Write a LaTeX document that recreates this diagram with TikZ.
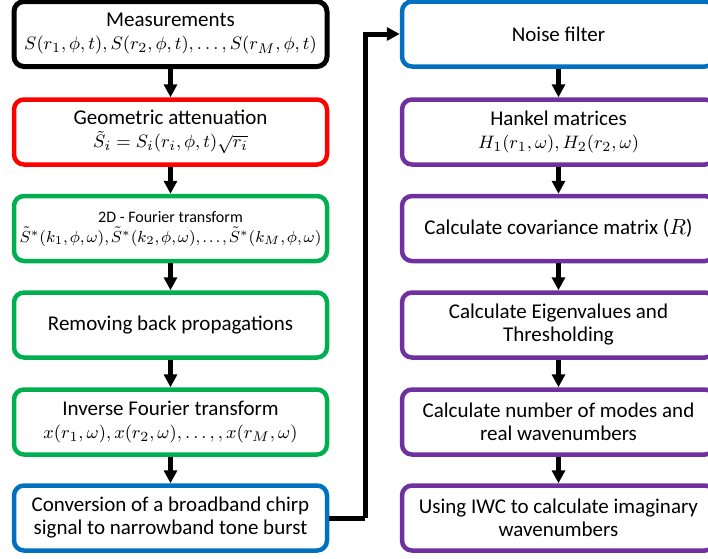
\documentclass[tikz,border=0pt]{standalone}
\usepackage{fontspec}
\setmainfont{Carlito}
\usetikzlibrary{arrows.meta}
\definecolor{boxred}{RGB}{255,0,0}
\definecolor{boxgreen}{RGB}{0,176,80}
\definecolor{boxblue}{RGB}{0,112,192}
\definecolor{boxpurple}{RGB}{112,48,160}
\newcommand{\mathline}[1]{{\fontsize{9.5}{11.5}\selectfont$#1$}}
\newcommand{\smallmathline}[1]{{\thinmuskip=2mu\relax$#1$}}
\tikzset{
  stepbox/.style = {draw, rounded corners=5pt, line width=2.25pt,
                    minimum width=156.5pt, minimum height=32.5pt,
                    align=center, inner sep=2pt,
                    font=\fontsize{10.5}{11.5}\selectfont},
  flow/.style    = {line width=2.5pt, -{Triangle[length=6.5pt,width=6.5pt]}}
}

\begin{document}
\begin{tikzpicture}[x=0.5pt,y=-0.5pt]
  \useasboundingbox (0,0) rectangle (708,558);
  % left column
  \node[stepbox, draw=black, line width=2.5pt] (meas) at (170.5,34)
    {Measurements\\ \mathline{S(r_1,\phi,t),S(r_2,\phi,t),\ldots,S(r_M,\phi,t)}};
  \node[stepbox, draw=boxred] (geom) at (170.5,132)
    {Geometric attenuation\\ \mathline{\tilde{S}_i=S_i(r_i,\phi,t)\sqrt{r_i}}};
  \node[stepbox, draw=boxgreen, font=\fontsize{8}{10}\selectfont] (fft) at (170.5,228.5)
    {2D - Fourier transform\\ \smallmathline{\tilde{S}^*(k_1,\phi,\omega),\tilde{S}^*(k_2,\phi,\omega),\ldots,\tilde{S}^*(k_M,\phi,\omega)}};
  \node[stepbox, draw=boxgreen] (back) at (170.5,325)
    {Removing back propagations};
  \node[stepbox, draw=boxgreen] (ifft) at (170.5,422)
    {Inverse Fourier transform\\ \mathline{x(r_1,\omega),x(r_2,\omega),\ldots,,x(r_M,\omega)}};
  \node[stepbox, draw=boxblue] (conv) at (170.5,518)
    {Conversion of a broadband chirp\\ signal to narrowband tone burst};
  % right column
  \node[stepbox, draw=boxblue] (noise) at (558.5,34) {Noise filter};
  \node[stepbox, draw=boxpurple] (hank) at (558.5,132)
    {Hankel matrices\\ \mathline{H_1(r_1,\omega),H_2(r_2,\omega)}};
  \node[stepbox, draw=boxpurple] (cov) at (558.5,228.5)
    {Calculate covariance matrix ($R$)};
  \node[stepbox, draw=boxpurple] (eig) at (558.5,325)
    {Calculate Eigenvalues and\\ Thresholding};
  \node[stepbox, draw=boxpurple] (modes) at (558.5,422)
    {Calculate number of modes and\\ real wavenumbers};
  \node[stepbox, draw=boxpurple] (iwc) at (558.5,518)
    {Using IWC to calculate imaginary\\ wavenumbers};
  \coordinate (turn) at (365,518);
  % connectors
  \draw[flow] (meas) -- (geom);
  \draw[flow] (geom) -- (fft);
  \draw[flow] (fft) -- (back);
  \draw[flow] (back) -- (ifft);
  \draw[flow] (ifft) -- (conv);
  \draw[line width=2.5pt] (conv) -- (turn);
  \draw[flow] (turn) |- (noise);
  \draw[flow] (noise) -- (hank);
  \draw[flow] (hank) -- (cov);
  \draw[flow] (cov) -- (eig);
  \draw[flow] (eig) -- (modes);
  \draw[flow] (modes) -- (iwc);
\end{tikzpicture}
\end{document}
